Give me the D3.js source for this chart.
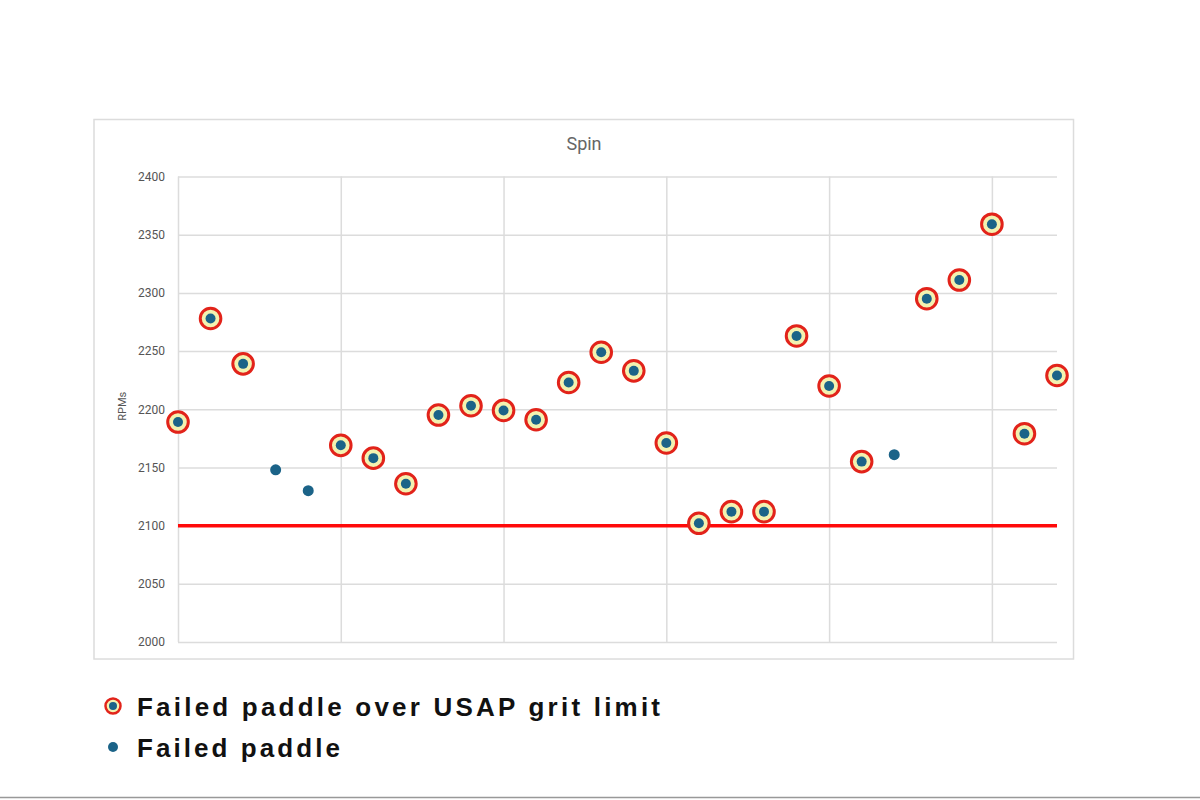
<!DOCTYPE html>
<html>
<head>
<meta charset="utf-8">
<script src="https://cdn.jsdelivr.net/npm/d3@7"></script>
<style>
  body { margin: 0; background: #fff; }
</style>
</head>
<body>
<div id="chart"></div>
<script>
// data
var spin = [2189, 2278, 2239, 2148, 2130, 2169, 2158, 2136, 2195, 2203, 2199, 2191, 2223, 2249,
    2233, 2171, 2102, 2112, 2112, 2263, 2220, 2155, 2161, 2295, 2311, 2359, 2179, 2229];
// true = over grit limit (ringed), false = plain failed paddle
var over_grit = [true, true, true, false, false, true, true, true, true, true, true, true, true, true,
    true, true, true, true, true, true, true, true, false, true, true, true, true, true];
var y_ticks = [2000, 2050, 2100, 2150, 2200, 2250, 2300, 2350, 2400];
var x_grid = [0, 5, 10, 15, 20, 25];
var limit = 2100;
var legend_labels = ['Failed paddle over USAP grit limit', 'Failed paddle'];

var width = 1200;
var height = 800;
var plot = { left: 178, right: 1057, top: 176.5, bottom: 642 };
var dot_color = '#1b6388';
var ring_color = '#e2231a';
var halo_color = '#f3f2b0';

var svg = d3.select('#chart')
    .append('svg')
    .attr('width', width)
    .attr('height', height)

var x_scale = d3.scaleLinear()
    .domain([0, spin.length - 1])
    .range([plot.left, plot.right])

var y_scale = d3.scaleLinear()
    .domain([2000, 2400])
    .range([plot.bottom, plot.top])

// chart frame
svg.append('rect')
    .attr('x', 94)
    .attr('y', 119.5)
    .attr('width', 979.5)
    .attr('height', 539.5)
    .attr('fill', 'none')
    .attr('stroke', '#dcdcdc')
    .attr('stroke-width', 1.5)

svg.append('text')
    .text('Spin')
    .attr('x', 584)
    .attr('y', 150)
    .attr('text-anchor', 'middle')
    .attr('font-family', 'Roboto, sans-serif')
    .attr('font-size', 18)
    .attr('fill', '#666')

// horizontal grid + y labels
var y_axis = d3.axisLeft(y_scale)
    .tickValues(y_ticks)
    .tickSize(-(plot.right - plot.left))
    .tickPadding(13)
    .tickFormat(d3.format('d'))

var gy = svg.append('g')
    .attr('transform', 'translate(' + plot.left + ',0)')
    .call(y_axis)
gy.select('.domain').remove()
gy.selectAll('line').attr('stroke', '#dcdcdc').attr('stroke-width', 1.5)
gy.selectAll('text')
    .attr('font-family', 'Roboto, sans-serif')
    .attr('font-size', 12)
    .attr('fill', '#555')

// vertical grid
var x_axis = d3.axisBottom(x_scale)
    .tickValues(x_grid)
    .tickSize(-(plot.bottom - plot.top))
    .tickFormat('')
var gx = svg.append('g')
    .attr('transform', 'translate(0,' + plot.bottom + ')')
    .call(x_axis)
gx.select('.domain').remove()
gx.selectAll('line').attr('stroke', '#dcdcdc').attr('stroke-width', 1.5)

svg.append('text')
    .text('RPMs')
    .attr('transform', 'translate(126,' + ((plot.top + plot.bottom) / 2 - 3) + ') rotate(-90)')
    .attr('text-anchor', 'middle')
    .attr('font-family', 'Roboto, sans-serif')
    .attr('font-size', 11)
    .attr('fill', '#555')

// grit limit line
svg.append('line')
    .attr('x1', plot.left)
    .attr('x2', plot.right)
    .attr('y1', y_scale(limit))
    .attr('y2', y_scale(limit))
    .attr('stroke', '#ff0a0a')
    .attr('stroke-width', 3.5)

// points
var pts = svg.selectAll('g.pt')
    .data(spin)
    .enter()
    .append('g')
    .attr('class', 'pt')
    .attr('transform', function (d, i) {
        return 'translate(' + x_scale(i) + ',' + y_scale(d) + ')';
    })

pts.filter(function (d, i) { return over_grit[i]; })
    .append('circle')
    .attr('r', 10.3)
    .attr('fill', halo_color)
    .attr('stroke', ring_color)
    .attr('stroke-width', 3)

pts.append('circle')
    .attr('r', function (d, i) { return over_grit[i] ? 5 : 5.5; })
    .attr('fill', dot_color)

// legend
var legend = svg.selectAll('g.legend')
    .data(legend_labels)
    .enter()
    .append('g')
    .attr('class', 'legend')
    .attr('transform', function (d, i) {
        return 'translate(113,' + (706 + i * 41) + ')';
    })

legend.filter(function (d, i) { return i === 0; })
    .append('circle')
    .attr('r', 7.5)
    .attr('fill', halo_color)
    .attr('stroke', ring_color)
    .attr('stroke-width', 2.5)

legend.append('circle')
    .attr('r', function (d, i) { return i === 0 ? 4 : 5; })
    .attr('fill', dot_color)

legend.append('text')
    .text(function (d) { return d; })
    .attr('x', 24)
    .attr('y', 9.5)
    .attr('font-family', '"Liberation Sans", Arial, sans-serif')
    .attr('font-weight', 'bold')
    .attr('font-size', 26)
    .attr('fill', '#111')
    .attr('textLength', function (d, i) { return i === 0 ? 523 : 203; })
    .attr('lengthAdjust', 'spacing')

// bottom rule
svg.append('line')
    .attr('x1', 0)
    .attr('x2', width)
    .attr('y1', 797.5)
    .attr('y2', 797.5)
    .attr('stroke', '#999')
    .attr('stroke-width', 1.5)
</script>
</body>
</html>
